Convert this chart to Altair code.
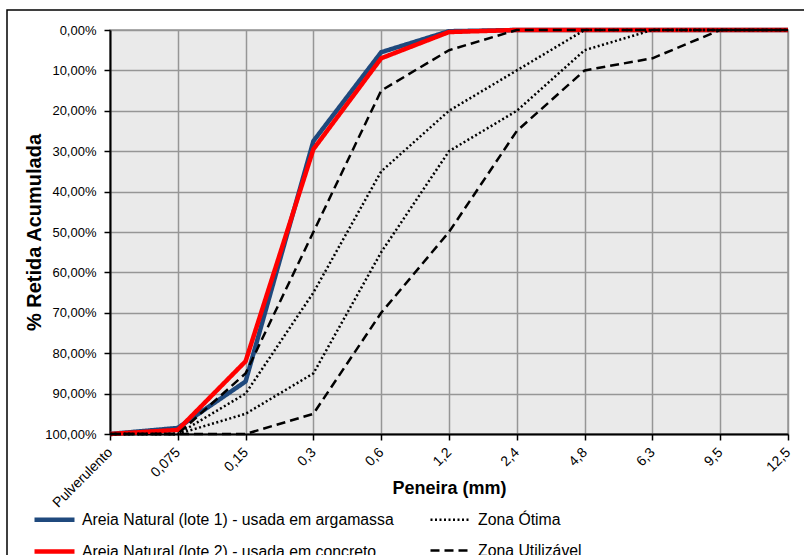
import altair as alt
import pandas as pd

# Peneiras (mm) no eixo x
peneiras = ["Pulverulento", "0,075", "0,15", "0,3", "0,6", "1,2", "2,4", "4,8", "6,3", "9,5", "12,5"]

# % retida acumulada em cada peneira
lote1 = [100, 98.5, 87, 27.5, 5.5, 0.3, 0, 0, 0, 0, 0]
lote2 = [100, 99, 82, 29.5, 7, 0.5, 0, 0, 0, 0, 0]
otima_inf = [100, 100, 90, 65, 35, 20, 10, 0, 0, 0, 0]
otima_sup = [100, 100, 95, 85, 55, 30, 20, 5, 0, 0, 0]
util_inf = [100, 100, 85, 50, 15, 5, 0, 0, 0, 0, 0]
util_sup = [100, 100, 100, 95, 70, 50, 25, 10, 7, 0, 0]

S1 = "Areia Natural (lote 1) - usada em argamassa"
S2 = "Areia Natural (lote 2) - usada em concreto"
SO = "Zona Ótima"
SU = "Zona Utilizável"

curvas = [
    (S1, "lote1", lote1),
    (S2, "lote2", lote2),
    (SO, "otima_inf", otima_inf),
    (SO, "otima_sup", otima_sup),
    (SU, "util_inf", util_inf),
    (SU, "util_sup", util_sup),
]

linhas = []
for serie, curva, valores in curvas:
    for i, (p, v) in enumerate(zip(peneiras, valores)):
        linhas.append({"serie": serie, "curva": curva, "peneira": p, "valor": v, "ordem": i})
df = pd.DataFrame(linhas)

# a legenda em duas colunas é preenchida coluna a coluna
dominio = [S1, S2, SO, SU]
cores = ["#1F497D", "#FF0000", "#000000", "#000000"]
tracos = [[1, 0], [1, 0], [2, 2.5], [9, 5]]
larguras = [4.5, 4.5, 2.5, 2.5]

FONTE = "Liberation Sans"

eixo_x = alt.Axis(
    title="Peneira (mm)",
    grid=True,
    labelAngle=315,
    labelAlign="right",
    labelBaseline="middle",
    labelFontSize=14,
    labelPadding=10,
    titleFontSize=18,
    titleFontWeight="bold",
    titleY=54,
    titleBaseline="middle",
)

eixo_y = alt.Axis(
    title="% Retida Acumulada",
    values=list(range(0, 101, 10)),
    labelExpr="replace(format(datum.value, '.2f'), '.', ',') + '%'",
    labelFontSize=13,
    labelPadding=8,
    titleFontSize=20,
    titleFontWeight="bold",
    titleAngle=270,
    titleX=-76,
    titleY=202,
    titleAlign="center",
    titleBaseline="middle",
)

# o símbolo "stroke" ocupa uma caixa quadrada; o espaçamento negativo aproxima as linhas
legenda = alt.Legend(
    title=None,
    values=dominio,
    orient="none",
    legendX=-78,
    legendY=467,
    columns=2,
    columnPadding=31,
    rowPadding=-18,
    symbolType="stroke",
    symbolSize=1600,
    labelOffset=5,
    labelFontSize=15.8,
    labelLimit=0,
    labelFont=FONTE,
)

base = alt.Chart(df).mark_line(strokeJoin="round").encode(
    x=alt.X("peneira:N", sort=peneiras,
            scale=alt.Scale(domain=peneiras, type="point", padding=0), axis=eixo_x),
    y=alt.Y("valor:Q", scale=alt.Scale(domain=[0, 100], reverse=True, nice=False), axis=eixo_y),
    color=alt.Color("serie:N", sort=dominio, scale=alt.Scale(domain=dominio, range=cores), legend=legenda),
    strokeDash=alt.StrokeDash("serie:N", sort=dominio, scale=alt.Scale(domain=dominio, range=tracos)),
    strokeWidth=alt.StrokeWidth("serie:N", sort=dominio,
                                scale=alt.Scale(type="ordinal", domain=dominio, range=larguras)),
    detail="curva:N",
    order="ordem:Q",
)

camada_lote1 = base.transform_filter(alt.datum.serie == S1)
camada_lote2 = base.transform_filter(alt.datum.serie == S2)
camada_zonas = base.transform_filter((alt.datum.serie == SO) | (alt.datum.serie == SU))

moldura = alt.Chart(alt.Data(values=[{"m": 1}])).mark_rect(
    fillOpacity=0, stroke="#000000", strokeWidth=1.5
).encode(
    x=alt.value(-103), x2=alt.value(720), y=alt.value(-20), y2=alt.value(560)
)

chart = alt.layer(camada_lote1, camada_lote2, camada_zonas, moldura).properties(
    width=678,
    height=404,
    autosize=alt.AutoSizeParams(type="none"),
    padding={"left": 110, "top": 30, "right": 16, "bottom": 121},
    background="#FFFFFF",
).configure(
    font=FONTE,
).configure_view(
    fill="#EAEAEA",
    stroke="#969696",
    strokeWidth=1.5,
).configure_axis(
    labelFont=FONTE,
    titleFont=FONTE,
    labelColor="#000000",
    titleColor="#000000",
    gridColor="#969696",
    gridWidth=1.5,
    gridOpacity=1,
    domainColor="#000000",
    domainWidth=2,
    tickColor="#000000",
    tickWidth=1.5,
    tickSize=6,
)

chart.save("out.html", embed_options={"renderer": "svg", "actions": False})
